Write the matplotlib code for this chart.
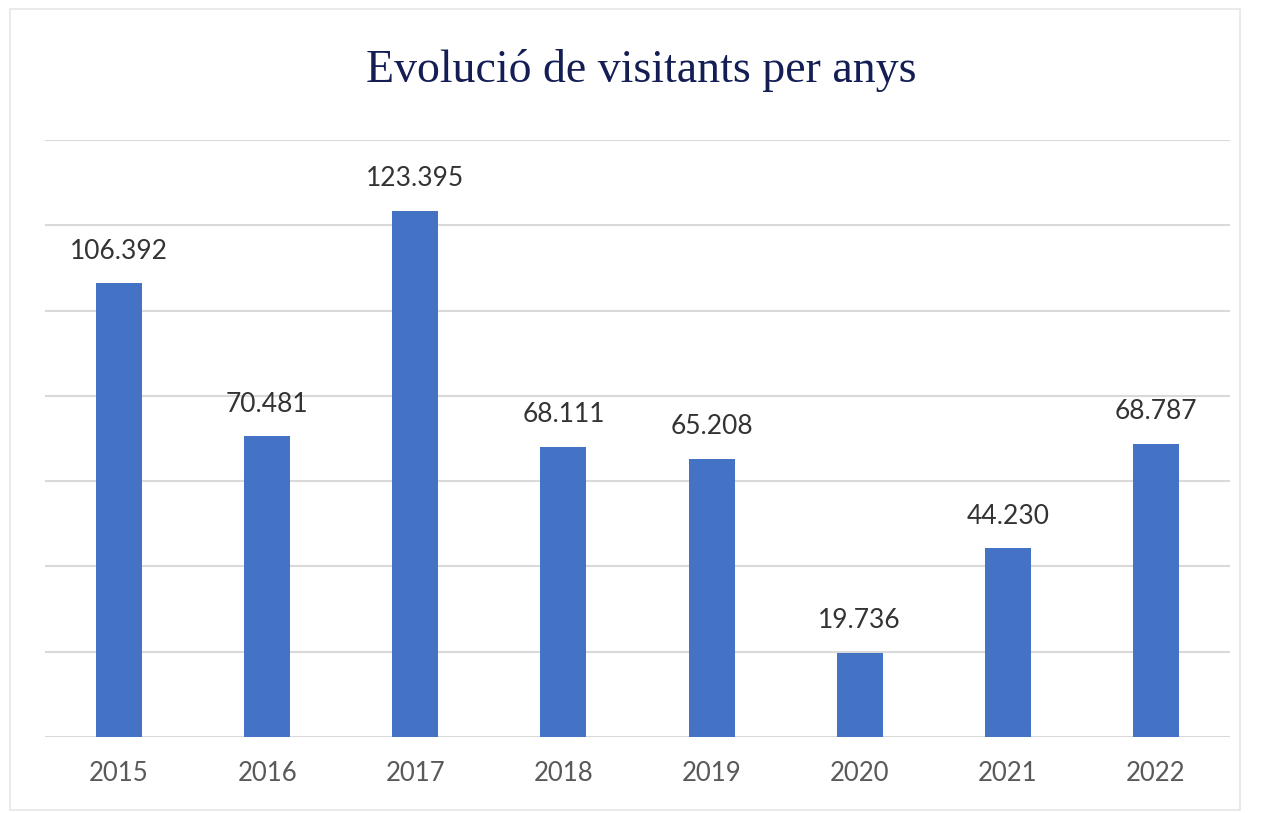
import matplotlib
matplotlib.use("Agg")
import matplotlib.pyplot as plt
from matplotlib.patches import Rectangle

years = ["2015", "2016", "2017", "2018", "2019", "2020", "2021", "2022"]
visitors = [106392, 70481, 123395, 68111, 65208, 19736, 44230, 68787]
labels = ["106.392", "70.481", "123.395", "68.111", "65.208", "19.736", "44.230", "68.787"]
title = "Evolució de visitants per anys"

W, H = 1266, 813
fig = plt.figure(figsize=(W / 100, H / 100), dpi=100)
fig.patch.set_facecolor("white")

# faint outer frame
fig.patches.append(Rectangle((10 / W, 1 - 810 / H), (1240 - 10) / W, (810 - 9) / H,
                             transform=fig.transFigure, fill=False,
                             edgecolor="#E6E6E6", linewidth=1.2))

left, right, top, bottom = 45, 1230, 140, 737
ax = fig.add_axes([left / W, 1 - bottom / H, (right - left) / W, (bottom - top) / H])
x = list(range(len(years)))
ax.bar(x, visitors, width=0.31, color="#4472C4", zorder=3)
ax.set_xlim(-0.5, len(years) - 0.5)
ax.set_ylim(0, 140000)
ax.set_yticks(range(0, 140001, 20000))
ax.yaxis.grid(True, color="#D9D9D9", linewidth=1.5, zorder=0)
ax.set_axisbelow(True)
for s in ax.spines.values():
    s.set_visible(False)
ax.tick_params(axis="y", length=0, labelleft=False)
ax.tick_params(axis="x", length=0, pad=17)
ax.set_xticks(x)
ax.set_xticklabels(years, fontsize=18.5, color="#595959", family="Lato")

for xi, v, lab in zip(x, visitors, labels):
    ax.annotate(lab, (xi, v), xytext=(0, 14), textcoords="offset points",
                ha="center", va="bottom", fontsize=19, color="#333333", family="Lato")

fig.text(641 / W, 1 - 70 / H, title, ha="center", va="center",
         fontsize=33, color="#141E55", family="Liberation Serif")

fig.savefig("out.png", dpi=100)
